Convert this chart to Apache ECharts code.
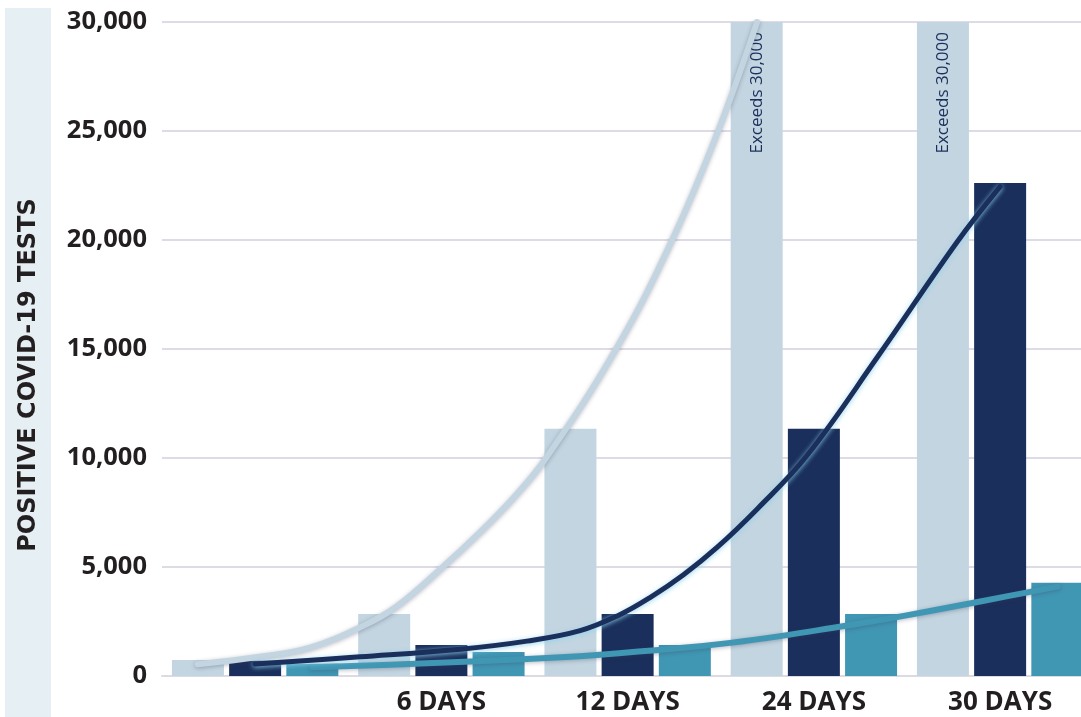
<!DOCTYPE html>
<html>
<head>
<meta charset="utf-8">
<script src="https://cdn.jsdelivr.net/npm/echarts@6/dist/echarts.min.js"></script>
<style>
html,body{margin:0;padding:0;background:#ffffff;}
#chart{width:1081px;height:717px;}
</style>
</head>
<body>
<div id="chart"></div>
<script>
// ---- data ----
var categories = ['', '6 DAYS', '12 DAYS', '24 DAYS', '30 DAYS'];
var lightValues = [730, 2840, 11340, 30000, 30000];
var lightNotes  = ['', '', '', 'Exceeds 30,000', 'Exceeds 30,000'];
var darkValues  = [700, 1420, 2840, 11340, 22620];
var tealValues  = [560, 1100, 1420, 2840, 4280];
var yTicks = [0, 5000, 10000, 15000, 20000, 25000, 30000];
var yTitle = 'POSITIVE COVID-19 TESTS';

// trend curves: [position in category units, value]
var lightTrend = [[-0.308,540],[0.027,880],[0.295,1300],[0.580,2300],[0.762,3200],[1.009,5010],[1.208,6600],[1.385,8150],[1.562,10000],[1.938,15000],[2.239,20000],[2.486,25000],[2.695,30000]];
var darkTrend  = [[0,550],[0.564,880],[1.101,1230],[1.459,1600],[1.745,2080],[1.950,2780],[2.120,3600],[2.300,4650],[2.480,5900],[2.700,7700],[2.962,10100],[3.347,14700],[3.768,19900],[4.0,22450]];
var tealTrend  = [[0.308,400],[0.922,580],[1.459,780],[1.852,980],[2.282,1280],[2.550,1520],[2.819,1830],[3.087,2190],[3.356,2570],[3.624,2980],[3.893,3420],[4.161,3860],[4.308,4100]];

var C_LIGHT = '#c3d5e1', C_DARK = '#1a2f5b', C_TEAL = '#4097b4';
var TXT = '#231f20';
var FONT = 'Open Sans';

var chart = echarts.init(document.getElementById('chart'), null, {renderer:'canvas'});

var lightData = lightValues.map(function(v, i){
  var item = {value: v};
  if (lightNotes[i]) {
    item.label = {show: true, formatter: lightNotes[i]};
  }
  return item;
});

function trendSeries(data, color, width, shadowColor, blur){
  return {
    type: 'line', xAxisIndex: 1, data: data, smooth: 0.4,
    symbol: 'none', z: 5, silent: true,
    lineStyle: {color: color, width: width, cap: 'round', join: 'round',
      shadowColor: shadowColor, shadowBlur: blur, shadowOffsetX: 0, shadowOffsetY: 1}
  };
}

var option = {
  animation: false,
  backgroundColor: '#ffffff',
  graphic: [
    {type: 'rect', shape: {x: 5, y: 8, width: 46, height: 709}, style: {fill: '#e6eff3'}, z: -1},
    {type: 'text', x: 29, y: 375, rotation: Math.PI/2,
     style: {text: yTitle, fill: TXT, font: 'bold 24px "DejaVu Sans"', align: 'center', verticalAlign: 'middle'}}
  ],
  grid: {left: 162, top: 22, width: 931.25, bottom: 41, containLabel: false, outerBoundsMode: 'none'},
  xAxis: [
    {type: 'category', data: categories, boundaryGap: true,
     axisLine: {show: true, lineStyle: {color: '#dcdae3', width: 2}},
     axisTick: {show: false},
     axisLabel: {color: TXT, fontFamily: FONT, fontWeight: 'bold', fontSize: 26, margin: 14}},
    {type: 'value', min: -0.5, max: 4.5, show: false}
  ],
  yAxis: {
    type: 'value', min: 0, max: 30000, interval: 5000,
    axisLine: {show: false}, axisTick: {show: false},
    splitLine: {show: true, lineStyle: {color: '#dedbe6', width: 2}},
    axisLabel: {color: TXT, fontFamily: FONT, fontWeight: 'bold', fontSize: 25.5, margin: 15,
      formatter: function(v){ return yTicks.indexOf(v) >= 0 ? v.toLocaleString('en-US') : ''; }}
  },
  series: [
    {type: 'bar', name: 'light', data: lightData, barWidth: 52, barGap: '10%',
     itemStyle: {color: C_LIGHT},
     label: {show: false, position: 'insideTop', rotate: 90, align: 'right', verticalAlign: 'middle',
       distance: 10, color: C_DARK, fontFamily: FONT, fontSize: 17}},
    {type: 'bar', name: 'dark', data: darkValues, barWidth: 52, barGap: '10%', itemStyle: {color: C_DARK}},
    {type: 'bar', name: 'teal', data: tealValues, barWidth: 52, barGap: '10%', itemStyle: {color: C_TEAL}},
    trendSeries(lightTrend, C_LIGHT, 6, 'rgba(60,60,90,0.35)', 4),
    trendSeries(tealTrend, C_TEAL, 6, 'rgba(60,60,90,0.35)', 4),
    trendSeries(darkTrend, C_DARK, 5, 'rgba(140,210,235,0.9)', 5)
  ]
};
chart.setOption(option);
</script>
</body>
</html>
